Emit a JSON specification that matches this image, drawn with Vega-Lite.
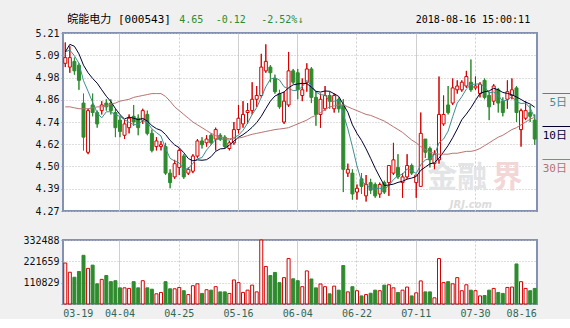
{
  "$schema": "https://vega.github.io/schema/vega-lite/v6.json",
  "background": "#f0f0f0",
  "padding": {"left": 21, "top": 12, "right": 0, "bottom": 0},
  "spacing": 17,
  "config": {
    "font": "DejaVu Sans Mono",
    "view": {"stroke": "#8491b3", "strokeWidth": 2, "fill": "#ffffff"},
    "axis": {"labelFont": "DejaVu Sans Mono", "labelFontSize": 10, "title": null, "labelOverlap": false}
  },
  "datasets": {
    "k": [
      {"d":"03-19","o":5.05,"h":5.16,"l":5.03,"c":5.08,"v":212900,"m5":5.11,"m10":5.11,"m30":4.82},
      {"d":"03-20","o":5.03,"h":5.14,"l":5.00,"c":5.08,"v":165000,"m5":5.12,"m10":5.15,"m30":4.82},
      {"d":"03-21","o":5.06,"h":5.08,"l":4.99,"c":5.01,"v":139000,"m5":5.09,"m10":5.14,"m30":4.815},
      {"d":"03-22","o":5.04,"h":5.05,"l":4.91,"c":4.96,"v":169000,"m5":5.05,"m10":5.10,"m30":4.81},
      {"d":"03-23","o":4.84,"h":4.89,"l":4.59,"c":4.66,"v":253000,"m5":4.958,"m10":5.04,"m30":4.81},
      {"d":"03-26","o":4.58,"h":4.81,"l":4.57,"c":4.80,"v":185000,"m5":4.902,"m10":5.00,"m30":4.81},
      {"d":"03-27","o":4.83,"h":4.89,"l":4.77,"c":4.79,"v":202000,"m5":4.844,"m10":4.97,"m30":4.815},
      {"d":"03-28","o":4.79,"h":4.80,"l":4.71,"c":4.73,"v":105000,"m5":4.788,"m10":4.945,"m30":4.82},
      {"d":"03-29","o":4.80,"h":4.85,"l":4.78,"c":4.83,"v":128000,"m5":4.762,"m10":4.91,"m30":4.82},
      {"d":"03-30","o":4.84,"h":4.86,"l":4.80,"c":4.82,"v":148000,"m5":4.794,"m10":4.876,"m30":4.825},
      {"d":"04-02","o":4.84,"h":4.86,"l":4.78,"c":4.80,"v":116000,"m5":4.794,"m10":4.848,"m30":4.835},
      {"d":"04-03","o":4.79,"h":4.81,"l":4.66,"c":4.71,"v":121000,"m5":4.778,"m10":4.811,"m30":4.84},
      {"d":"04-04","o":4.75,"h":4.77,"l":4.66,"c":4.69,"v":84000,"m5":4.77,"m10":4.779,"m30":4.85},
      {"d":"04-09","o":4.67,"h":4.75,"l":4.65,"c":4.73,"v":84000,"m5":4.752,"m10":4.756,"m30":4.855},
      {"d":"04-10","o":4.71,"h":4.78,"l":4.68,"c":4.76,"v":81000,"m5":4.738,"m10":4.766,"m30":4.86},
      {"d":"04-11","o":4.77,"h":4.83,"l":4.72,"c":4.74,"v":116000,"m5":4.726,"m10":4.76,"m30":4.87},
      {"d":"04-12","o":4.76,"h":4.78,"l":4.67,"c":4.71,"v":84000,"m5":4.726,"m10":4.752,"m30":4.875},
      {"d":"04-13","o":4.75,"h":4.81,"l":4.73,"c":4.80,"v":121000,"m5":4.748,"m10":4.759,"m30":4.88},
      {"d":"04-16","o":4.78,"h":4.80,"l":4.67,"c":4.68,"v":84000,"m5":4.738,"m10":4.745,"m30":4.885},
      {"d":"04-17","o":4.68,"h":4.70,"l":4.58,"c":4.59,"v":77000,"m5":4.704,"m10":4.721,"m30":4.89},
      {"d":"04-18","o":4.61,"h":4.66,"l":4.59,"c":4.64,"v":53000,"m5":4.684,"m10":4.705,"m30":4.89},
      {"d":"04-19","o":4.61,"h":4.64,"l":4.59,"c":4.62,"v":60000,"m5":4.666,"m10":4.696,"m30":4.89},
      {"d":"04-20","o":4.61,"h":4.63,"l":4.46,"c":4.47,"v":116000,"m5":4.60,"m10":4.674,"m30":4.875},
      {"d":"04-23","o":4.47,"h":4.49,"l":4.39,"c":4.42,"v":79000,"m5":4.548,"m10":4.643,"m30":4.85},
      {"d":"04-24","o":4.45,"h":4.54,"l":4.44,"c":4.52,"v":79000,"m5":4.534,"m10":4.619,"m30":4.82},
      {"d":"04-25","o":4.50,"h":4.60,"l":4.46,"c":4.59,"v":86000,"m5":4.524,"m10":4.604,"m30":4.80},
      {"d":"04-26","o":4.56,"h":4.57,"l":4.44,"c":4.45,"v":69000,"m5":4.49,"m10":4.578,"m30":4.78},
      {"d":"04-27","o":4.47,"h":4.50,"l":4.46,"c":4.49,"v":49000,"m5":4.494,"m10":4.547,"m30":4.76},
      {"d":"05-02","o":4.48,"h":4.57,"l":4.47,"c":4.56,"v":95000,"m5":4.522,"m10":4.535,"m30":4.74},
      {"d":"05-03","o":4.56,"h":4.65,"l":4.55,"c":4.64,"v":105000,"m5":4.546,"m10":4.54,"m30":4.725},
      {"d":"05-04","o":4.64,"h":4.66,"l":4.60,"c":4.62,"v":55000,"m5":4.552,"m10":4.538,"m30":4.71},
      {"d":"05-07","o":4.63,"h":4.67,"l":4.61,"c":4.65,"v":74000,"m5":4.592,"m10":4.541,"m30":4.695},
      {"d":"05-08","o":4.67,"h":4.68,"l":4.62,"c":4.63,"v":72000,"m5":4.62,"m10":4.557,"m30":4.68},
      {"d":"05-09","o":4.65,"h":4.71,"l":4.59,"c":4.70,"v":90000,"m5":4.648,"m10":4.585,"m30":4.668},
      {"d":"05-10","o":4.67,"h":4.68,"l":4.64,"c":4.65,"v":63000,"m5":4.65,"m10":4.598,"m30":4.66},
      {"d":"05-11","o":4.66,"h":4.67,"l":4.60,"c":4.61,"v":63000,"m5":4.648,"m10":4.60,"m30":4.655},
      {"d":"05-14","o":4.60,"h":4.64,"l":4.59,"c":4.63,"v":55000,"m5":4.644,"m10":4.618,"m30":4.652},
      {"d":"05-15","o":4.63,"h":4.74,"l":4.62,"c":4.70,"v":125000,"m5":4.658,"m10":4.639,"m30":4.652},
      {"d":"05-16","o":4.70,"h":4.83,"l":4.68,"c":4.76,"v":111000,"m5":4.67,"m10":4.659,"m30":4.655},
      {"d":"05-17","o":4.73,"h":4.85,"l":4.71,"c":4.78,"v":60000,"m5":4.696,"m10":4.673,"m30":4.66},
      {"d":"05-18","o":4.79,"h":4.84,"l":4.73,"c":4.80,"v":72000,"m5":4.734,"m10":4.691,"m30":4.668},
      {"d":"05-21","o":4.80,"h":4.95,"l":4.78,"c":4.86,"v":98000,"m5":4.78,"m10":4.712,"m30":4.675},
      {"d":"05-22","o":4.86,"h":4.93,"l":4.82,"c":4.88,"v":63000,"m5":4.816,"m10":4.737,"m30":4.68},
      {"d":"05-23","o":4.88,"h":5.10,"l":4.87,"c":5.03,"v":332488,"m5":4.87,"m10":4.77,"m30":4.685},
      {"d":"05-24","o":5.01,"h":5.15,"l":5.00,"c":5.06,"v":195000,"m5":4.926,"m10":4.811,"m30":4.69},
      {"d":"05-25","o":5.03,"h":5.04,"l":4.95,"c":5.00,"v":148000,"m5":4.966,"m10":4.85,"m30":4.695},
      {"d":"05-28","o":4.97,"h":4.99,"l":4.89,"c":4.90,"v":164000,"m5":4.974,"m10":4.877,"m30":4.70},
      {"d":"05-29","o":4.89,"h":4.91,"l":4.81,"c":4.82,"v":111000,"m5":4.962,"m10":4.889,"m30":4.703},
      {"d":"05-30","o":4.74,"h":4.90,"l":4.73,"c":4.85,"v":137000,"m5":4.926,"m10":4.898,"m30":4.706},
      {"d":"05-31","o":4.83,"h":5.11,"l":4.82,"c":5.01,"v":236000,"m5":4.916,"m10":4.921,"m30":4.71},
      {"d":"06-01","o":5.01,"h":5.02,"l":4.94,"c":4.95,"v":131000,"m5":4.906,"m10":4.936,"m30":4.72},
      {"d":"06-04","o":5.00,"h":5.02,"l":4.86,"c":4.91,"v":121000,"m5":4.908,"m10":4.941,"m30":4.73},
      {"d":"06-05","o":4.88,"h":4.97,"l":4.85,"c":4.91,"v":90000,"m5":4.926,"m10":4.944,"m30":4.74},
      {"d":"06-06","o":4.95,"h":5.05,"l":4.90,"c":5.02,"v":172000,"m5":4.96,"m10":4.943,"m30":4.75},
      {"d":"06-07","o":5.02,"h":5.03,"l":4.84,"c":4.87,"v":130000,"m5":4.932,"m10":4.924,"m30":4.765},
      {"d":"06-08","o":4.87,"h":4.90,"l":4.72,"c":4.78,"v":84000,"m5":4.898,"m10":4.902,"m30":4.775},
      {"d":"06-11","o":4.78,"h":4.89,"l":4.71,"c":4.86,"v":104000,"m5":4.884,"m10":4.898,"m30":4.79},
      {"d":"06-12","o":4.81,"h":4.93,"l":4.80,"c":4.88,"v":90000,"m5":4.882,"m10":4.904,"m30":4.805},
      {"d":"06-13","o":4.88,"h":4.90,"l":4.81,"c":4.85,"v":53000,"m5":4.848,"m10":4.902,"m30":4.82},
      {"d":"06-14","o":4.81,"h":4.89,"l":4.79,"c":4.88,"v":93000,"m5":4.85,"m10":4.889,"m30":4.825},
      {"d":"06-15","o":4.86,"h":4.87,"l":4.79,"c":4.81,"v":72000,"m5":4.856,"m10":4.875,"m30":4.83},
      {"d":"06-19","o":4.83,"h":4.86,"l":4.37,"c":4.49,"v":200000,"m5":4.782,"m10":4.833,"m30":4.83},
      {"d":"06-20","o":4.47,"h":4.52,"l":4.45,"c":4.49,"v":63000,"m5":4.704,"m10":4.791,"m30":4.82},
      {"d":"06-21","o":4.47,"h":4.49,"l":4.33,"c":4.36,"v":90000,"m5":4.61,"m10":4.725,"m30":4.81},
      {"d":"06-22","o":4.37,"h":4.41,"l":4.33,"c":4.39,"v":69000,"m5":4.508,"m10":4.68,"m30":4.80},
      {"d":"06-25","o":4.44,"h":4.47,"l":4.36,"c":4.40,"v":42000,"m5":4.426,"m10":4.643,"m30":4.79},
      {"d":"06-26","o":4.35,"h":4.46,"l":4.32,"c":4.41,"v":49000,"m5":4.41,"m10":4.598,"m30":4.78},
      {"d":"06-27","o":4.42,"h":4.44,"l":4.36,"c":4.38,"v":56000,"m5":4.388,"m10":4.548,"m30":4.775},
      {"d":"06-28","o":4.41,"h":4.42,"l":4.34,"c":4.35,"v":72000,"m5":4.386,"m10":4.496,"m30":4.765},
      {"d":"06-29","o":4.36,"h":4.42,"l":4.34,"c":4.41,"v":69000,"m5":4.39,"m10":4.449,"m30":4.755},
      {"d":"07-02","o":4.42,"h":4.43,"l":4.36,"c":4.37,"v":98000,"m5":4.384,"m10":4.405,"m30":4.745},
      {"d":"07-03","o":4.42,"h":4.51,"l":4.35,"c":4.51,"v":100000,"m5":4.404,"m10":4.407,"m30":4.73},
      {"d":"07-04","o":4.47,"h":4.63,"l":4.46,"c":4.54,"v":84000,"m5":4.436,"m10":4.412,"m30":4.715},
      {"d":"07-05","o":4.50,"h":4.57,"l":4.44,"c":4.45,"v":60000,"m5":4.456,"m10":4.421,"m30":4.70},
      {"d":"07-06","o":4.42,"h":4.47,"l":4.34,"c":4.45,"v":72000,"m5":4.464,"m10":4.427,"m30":4.685},
      {"d":"07-09","o":4.45,"h":4.57,"l":4.44,"c":4.51,"v":88000,"m5":4.492,"m10":4.438,"m30":4.665},
      {"d":"07-10","o":4.51,"h":4.52,"l":4.46,"c":4.47,"v":42000,"m5":4.484,"m10":4.444,"m30":4.645},
      {"d":"07-11","o":4.42,"h":4.46,"l":4.34,"c":4.46,"v":58000,"m5":4.468,"m10":4.452,"m30":4.63},
      {"d":"07-12","o":4.40,"h":4.79,"l":4.40,"c":4.68,"v":120000,"m5":4.514,"m10":4.485,"m30":4.61},
      {"d":"07-13","o":4.65,"h":4.65,"l":4.55,"c":4.58,"v":63000,"m5":4.54,"m10":4.502,"m30":4.595},
      {"d":"07-16","o":4.60,"h":4.61,"l":4.50,"c":4.54,"v":63000,"m5":4.546,"m10":4.519,"m30":4.58},
      {"d":"07-17","o":4.52,"h":4.59,"l":4.49,"c":4.57,"v":32000,"m5":4.566,"m10":4.525,"m30":4.575},
      {"d":"07-18","o":4.54,"h":4.98,"l":4.52,"c":4.78,"v":236000,"m5":4.63,"m10":4.549,"m30":4.57},
      {"d":"07-19","o":4.73,"h":4.88,"l":4.72,"c":4.78,"v":111000,"m5":4.65,"m10":4.582,"m30":4.57},
      {"d":"07-20","o":4.83,"h":4.93,"l":4.78,"c":4.79,"v":116000,"m5":4.692,"m10":4.616,"m30":4.57},
      {"d":"07-23","o":4.84,"h":4.97,"l":4.83,"c":4.92,"v":105000,"m5":4.768,"m10":4.657,"m30":4.575},
      {"d":"07-24","o":4.91,"h":4.96,"l":4.89,"c":4.93,"v":137000,"m5":4.84,"m10":4.703,"m30":4.575},
      {"d":"07-25","o":4.91,"h":4.96,"l":4.90,"c":4.95,"v":69000,"m5":4.874,"m10":4.752,"m30":4.58},
      {"d":"07-26","o":4.93,"h":5.01,"l":4.92,"c":4.98,"v":100000,"m5":4.914,"m10":4.782,"m30":4.585},
      {"d":"07-27","o":4.95,"h":5.07,"l":4.90,"c":4.91,"v":72000,"m5":4.938,"m10":4.815,"m30":4.585},
      {"d":"07-30","o":4.92,"h":4.98,"l":4.91,"c":4.93,"v":69000,"m5":4.94,"m10":4.854,"m30":4.59},
      {"d":"07-31","o":4.89,"h":4.95,"l":4.87,"c":4.94,"v":42000,"m5":4.942,"m10":4.891,"m30":4.60},
      {"d":"08-01","o":4.96,"h":4.97,"l":4.86,"c":4.87,"v":44000,"m5":4.926,"m10":4.90,"m30":4.615},
      {"d":"08-02","o":4.88,"h":4.90,"l":4.75,"c":4.82,"v":72000,"m5":4.894,"m10":4.904,"m30":4.63},
      {"d":"08-03","o":4.85,"h":4.94,"l":4.83,"c":4.93,"v":81000,"m5":4.898,"m10":4.918,"m30":4.645},
      {"d":"08-06","o":4.91,"h":4.92,"l":4.79,"c":4.84,"v":60000,"m5":4.88,"m10":4.91,"m30":4.66},
      {"d":"08-07","o":4.85,"h":4.87,"l":4.77,"c":4.79,"v":55000,"m5":4.85,"m10":4.896,"m30":4.67},
      {"d":"08-08","o":4.86,"h":4.96,"l":4.81,"c":4.90,"v":86000,"m5":4.856,"m10":4.891,"m30":4.685},
      {"d":"08-09","o":4.88,"h":4.97,"l":4.86,"c":4.91,"v":88000,"m5":4.874,"m10":4.884,"m30":4.70},
      {"d":"08-10","o":4.92,"h":4.93,"l":4.74,"c":4.79,"v":208000,"m5":4.846,"m10":4.872,"m30":4.71},
      {"d":"08-13","o":4.70,"h":4.81,"l":4.61,"c":4.80,"v":116000,"m5":4.838,"m10":4.859,"m30":4.725},
      {"d":"08-14","o":4.76,"h":4.85,"l":4.75,"c":4.80,"v":81000,"m5":4.84,"m10":4.845,"m30":4.74},
      {"d":"08-15","o":4.79,"h":4.83,"l":4.74,"c":4.77,"v":69000,"m5":4.814,"m10":4.835,"m30":4.755},
      {"d":"08-16","o":4.75,"h":4.78,"l":4.62,"c":4.65,"v":81000,"m5":4.762,"m10":4.818,"m30":4.765}
    ]
  },
  "vconcat": [
    {
      "width": 474,
      "height": 178,
      "data": {"name": "k"},
      "encoding": {
        "x": {
          "field": "d", "type": "ordinal",
          "scale": {"type": "band", "paddingInner": 0, "paddingOuter": 0},
          "axis": {
            "values": ["04-04","04-25","05-16","06-04","06-22","07-11","07-30"],
            "labels": false, "ticks": false, "domain": false, "title": null,
            "grid": true, "gridColor": "#cfcfcf",
            "gridDash": {"condition": {"test": "datum.value=='04-25'||datum.value=='06-22'||datum.value=='07-30'", "value": [2, 2]}, "value": []}
          }
        }
      },
      "layer": [
        {
          "mark": {"type": "rule", "strokeWidth": 1},
          "encoding": {
            "x": {"field": "d", "type": "ordinal", "bandPosition": 0.5},
            "y": {
              "field": "l", "type": "quantitative",
              "scale": {"domain": [4.27, 5.21], "nice": false, "zero": false},
              "axis": {
                "values": [4.27, 4.3875, 4.505, 4.6225, 4.74, 4.8575, 4.975, 5.0925, 5.21],
                "tickCount": 20,
                "labelExpr": "datum.value > 4.97 && datum.value < 4.98 ? '4.98' : format(datum.value, '.2f')",
                "labelOverlap": false,
                "title": null, "grid": true, "gridColor": "#bdbdbd", "gridDash": [1, 2],
                "domain": false, "tickSize": 2, "tickColor": "#8491b3", "labelPadding": 2, "labelColor": "#111111"
              }
            },
            "y2": {"field": "h"},
            "stroke": {"condition": {"test": "datum.c >= datum.o", "value": "#d40000"}, "value": "#2e8b2e"}
          }
        },
        {
          "data": {"values": [{}]},
          "mark": {"type": "text", "text": "金融", "font": "Noto Sans CJK SC", "fontSize": 30, "fontWeight": "bold", "fill": "#e2e4e6", "align": "center", "baseline": "middle"},
          "encoding": {"x": {"datum": "07-24"}, "y": {"datum": 4.445, "type": "quantitative"}}
        },
        {
          "data": {"values": [{}]},
          "mark": {"type": "text", "text": "界", "font": "Noto Sans CJK SC", "fontSize": 30, "fontWeight": "bold", "fill": "#f3d6d6", "align": "center", "baseline": "middle"},
          "encoding": {"x": {"datum": "08-08"}, "y": {"datum": 4.445, "type": "quantitative"}}
        },
        {
          "data": {"values": [{}]},
          "mark": {"type": "text", "text": "JRJ.com", "font": "DejaVu Sans", "fontSize": 10, "fontWeight": "bold", "fontStyle": "italic", "fill": "#dcdcdc", "align": "center", "baseline": "middle"},
          "encoding": {"x": {"datum": "07-27"}, "y": {"datum": 4.30, "type": "quantitative"}}
        },
        {
          "mark": {"type": "rule", "strokeWidth": 1},
          "encoding": {
            "x": {"field": "d", "type": "ordinal", "bandPosition": 0.5},
            "y": {"field": "l", "type": "quantitative"},
            "y2": {"field": "h"},
            "stroke": {"condition": {"test": "datum.c >= datum.o", "value": "#d40000"}, "value": "#2e8b2e"}
          }
        },
        {
          "mark": {"type": "bar", "width": 3, "strokeWidth": 1},
          "encoding": {
            "x": {"field": "d", "type": "ordinal"},
            "y": {"field": "o", "type": "quantitative"},
            "y2": {"field": "c"},
            "fill": {"condition": {"test": "datum.c >= datum.o", "value": "#ffffff"}, "value": "#2e8b2e"},
            "stroke": {"condition": {"test": "datum.c >= datum.o", "value": "#d40000"}, "value": "#2e8b2e"}
          }
        },
        {
          "transform": [{"fold": ["m5", "m10", "m30"], "as": ["k", "v"]}],
          "mark": {"type": "line", "strokeWidth": 1},
          "encoding": {
            "x": {"field": "d", "type": "ordinal", "bandPosition": 0.5},
            "y": {"field": "v", "type": "quantitative"},
            "color": {
              "field": "k", "type": "nominal",
              "scale": {"domain": ["m5", "m10", "m30"], "range": ["#3f8f8f", "#000033", "#b87272"]},
              "legend": {
                "orient": "none", "legendX": 474, "legendY": 64, "title": null,
                "symbolType": "M 0 -1.8 L 6 -1.8", "symbolSize": 100, "symbolStrokeWidth": 1,
                "labelOffset": 19, "labelAlign": "right", "rowPadding": 16,
                "labelFont": "DejaVu Sans Mono, Noto Sans CJK SC", "labelFontSize": 11,
                "labelExpr": "datum.value == 'm5' ? '5日' : datum.value == 'm10' ? '10日' : '30日'",
                "encode": {"labels": {"update": {"fill": {"scale": "color", "field": "value"}}}}
              }
            }
          }
        },
        {
          "data": {"values": [{}]},
          "mark": {"type": "text", "text": "皖能电力 [000543]", "font": "DejaVu Sans Mono, Noto Sans CJK SC", "fontSize": 11, "fill": "#000000", "align": "left", "baseline": "middle", "dx": 2},
          "encoding": {"x": {"datum": "03-19"}, "y": {"datum": 5.28, "type": "quantitative"}}
        },
        {
          "data": {"values": [{}]},
          "mark": {"type": "text", "text": "4.65", "fontSize": 10, "fill": "#2e8b2e", "align": "left", "baseline": "middle"},
          "encoding": {"x": {"datum": "04-25"}, "y": {"datum": 5.28, "type": "quantitative"}}
        },
        {
          "data": {"values": [{}]},
          "mark": {"type": "text", "text": "-0.12", "fontSize": 10, "fill": "#2e8b2e", "align": "left", "baseline": "middle"},
          "encoding": {"x": {"datum": "05-09"}, "y": {"datum": 5.28, "type": "quantitative"}}
        },
        {
          "data": {"values": [{}]},
          "mark": {"type": "text", "text": "-2.52%↓", "fontSize": 10, "fill": "#2e8b2e", "align": "left", "baseline": "middle"},
          "encoding": {"x": {"datum": "05-23"}, "y": {"datum": 5.28, "type": "quantitative"}}
        },
        {
          "data": {"values": [{}]},
          "mark": {"type": "text", "text": "2018-08-16 15:00:11", "fontSize": 10, "fill": "#000000", "align": "right", "baseline": "middle"},
          "encoding": {"x": {"datum": "08-15"}, "y": {"datum": 5.28, "type": "quantitative"}}
        }
      ]
    },
    {
      "width": 474,
      "height": 64,
      "data": {"name": "k"},
      "mark": {"type": "bar", "width": 3, "strokeWidth": 1},
      "encoding": {
        "x": {
          "field": "d", "type": "ordinal",
          "scale": {"type": "band", "paddingInner": 0, "paddingOuter": 0},
          "axis": {
            "values": ["03-19","04-04","04-25","05-16","06-04","06-22","07-11","07-30","08-16"],
            "labelAngle": 0, "labelFlush": 5, "labelFlushOffset": 2, "labelPadding": 4,
            "labelColor": "#336655", "ticks": false, "domain": false, "title": null,
            "grid": true,
            "gridColor": {"condition": {"test": "datum.value=='03-19'||datum.value=='08-16'", "value": "transparent"}, "value": "#cfcfcf"},
            "gridDash": {"condition": {"test": "datum.value=='04-25'||datum.value=='06-22'||datum.value=='07-30'", "value": [2, 2]}, "value": []}
          }
        },
        "y": {
          "field": "v", "type": "quantitative",
          "scale": {"domain": [0, 332488], "nice": false},
          "axis": {
            "values": [0, 110829.33, 221658.67, 332488],
            "tickCount": 10,
            "labelExpr": "datum.value == 0 ? '' : format(datum.value, 'd')",
            "labelOverlap": false,
            "title": null, "grid": true, "gridColor": "#bdbdbd", "gridDash": [1, 2],
            "domain": false, "tickSize": 2, "tickColor": "#8491b3", "labelPadding": 2, "labelColor": "#111111"
          }
        },
        "fill": {"condition": {"test": "datum.c >= datum.o", "value": "#ffffff"}, "value": "#2e8b2e"},
        "stroke": {"condition": {"test": "datum.c >= datum.o", "value": "#d40000"}, "value": "#2e8b2e"}
      }
    }
  ]
}
